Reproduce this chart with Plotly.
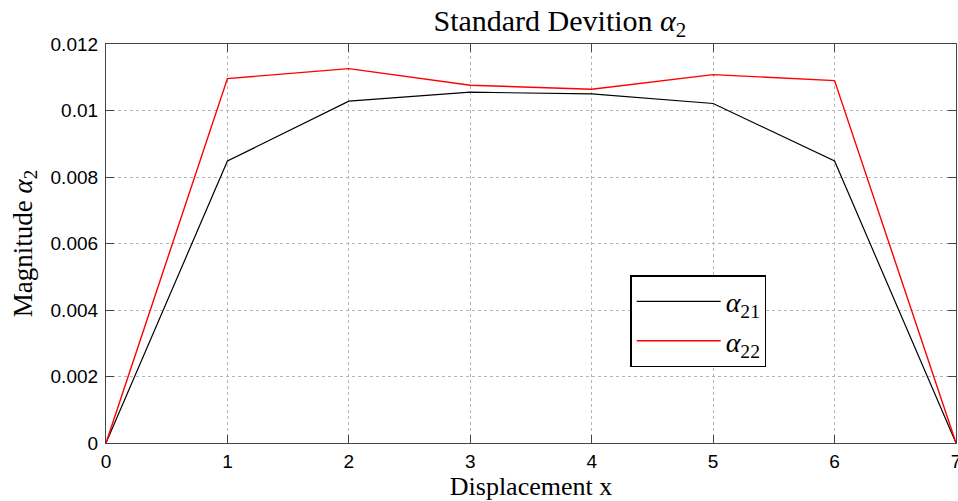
import plotly.graph_objects as go

x_vals = [0, 1, 2, 3, 4, 5, 6, 7]
alpha21 = [0, 0.00848, 0.01028, 0.01055, 0.01050, 0.01021, 0.00848, 0]
alpha22 = [0, 0.01096, 0.01126, 0.01076, 0.01064, 0.01108, 0.01090, 0]
series_names = ["<i>α</i><sub>21</sub>", "<i>α</i><sub>22</sub>"]
y_ticks = [0, 0.002, 0.004, 0.006, 0.008, 0.01, 0.012]
y_tick_text = ["0", "0.002", "0.004", "0.006", "0.008", "0.01", "0.012"]
x_ticks = [0, 1, 2, 3, 4, 5, 6, 7]

fig = go.Figure()
fig.add_trace(go.Scatter(x=x_vals, y=alpha21, mode="lines", name=series_names[0],
                         line=dict(color="black", width=1.2)))
fig.add_trace(go.Scatter(x=x_vals, y=alpha22, mode="lines", name=series_names[1],
                         line=dict(color="red", width=1.4)))

axis_common = dict(
    showline=True, linecolor="#444444", linewidth=1.2, mirror="ticks",
    ticks="inside", ticklen=8, tickcolor="#444444", tickwidth=1.2,
    showgrid=True, gridcolor="#b5b5b5", griddash="dot", gridwidth=1,
    zeroline=False, automargin=False, ticklabeloverflow="allow",
    tickfont=dict(family="Liberation Sans", size=19, color="black"),
)

fig.update_layout(
    width=958, height=501,
    paper_bgcolor="white", plot_bgcolor="white",
    margin=dict(l=106, r=2, t=44, b=58),
    showlegend=True,
    title=dict(text="Standard Devition <i>α</i><sub>2</sub>", x=0.534, xanchor="center",
               xref="paper", y=0.96, yanchor="middle",
               font=dict(family="Liberation Serif", size=30, color="black")),
    xaxis=dict(range=[0, 7], tickvals=x_ticks, ticklabelstandoff=1,
               title=dict(text="Displacement x", standoff=4,
                          font=dict(family="Liberation Serif", size=26, color="black")),
               **axis_common),
    yaxis=dict(range=[0, 0.012], tickvals=y_ticks, ticktext=y_tick_text, ticklabelstandoff=3,
               title=dict(text="Magnitude <i>α</i><sub>2</sub>", standoff=10,
                          font=dict(family="Liberation Serif", size=27, color="black")),
               **axis_common),
    legend=dict(x=0.617, y=0.42, xanchor="left", yanchor="top",
                bgcolor="white", bordercolor="black", borderwidth=1.2,
                font=dict(family="Liberation Serif", size=28, color="black"),
                tracegroupgap=8, itemwidth=84),
)

fig.write_html("out.html", config={"displayModeBar": False},
               post_script="document.body.style.margin='0';")
